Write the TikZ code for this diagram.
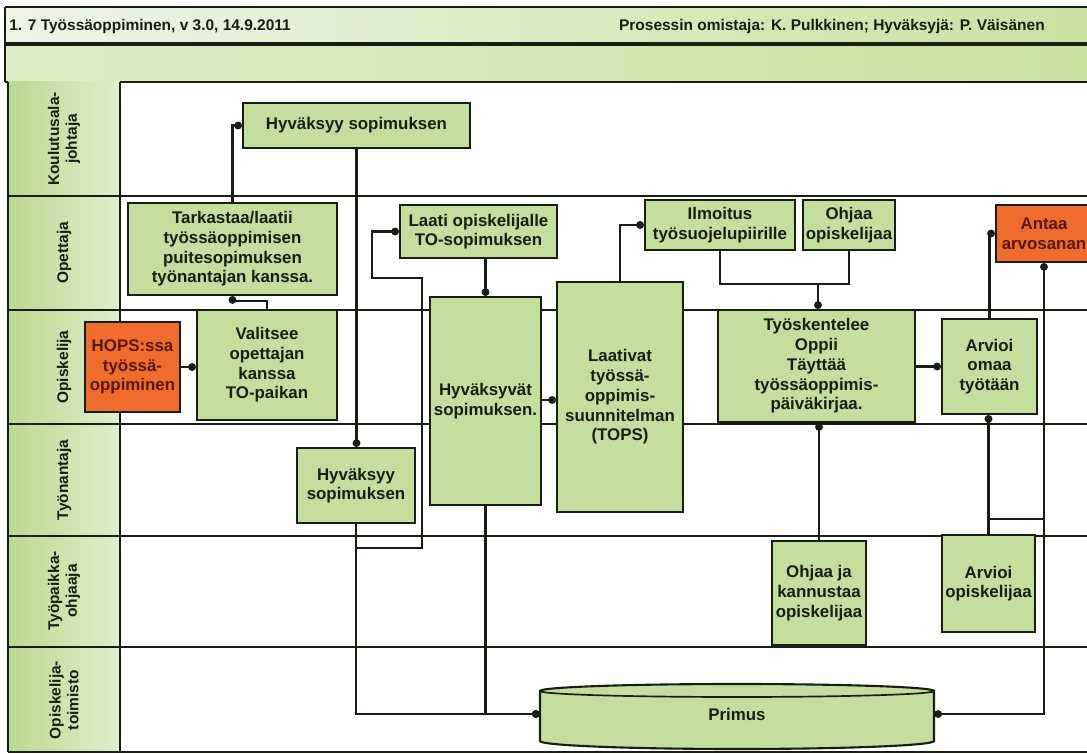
\documentclass[tikz,border=0pt]{standalone}
\usepackage{fontspec}
\setmainfont{Liberation Sans}
\usetikzlibrary{arrows.meta}
\definecolor{boxgreen}{RGB}{196,222,158}
\definecolor{boxorange}{RGB}{240,108,45}
\definecolor{otext}{RGB}{85,25,10}
\definecolor{lblgreen}{RGB}{186,216,144}
\definecolor{lblgreenl}{RGB}{224,239,204}
\definecolor{hdrl}{RGB}{238,244,230}
\definecolor{hdrr}{RGB}{200,226,160}
\definecolor{inkc}{RGB}{25,30,20}
\newdimen\pxu \pxu=0.025cm
\newcommand\bxfont{\fontsize{12}{14}\selectfont\bfseries}
\newcommand\lblfont{\fontsize{11}{12.5}\selectfont\bfseries}
\begin{document}
\begin{tikzpicture}[x=0.025cm,y=-0.025cm,
 sz/.style 2 args={minimum width=#1\pxu, minimum height=#2\pxu},
 gbox/.style={draw=inkc, line width=1.5pt, fill=boxgreen, inner sep=0pt, align=center, font=\bxfont, text=inkc},
 obox/.style={gbox, fill=boxorange, text=otext},
 conn/.style={draw=inkc, line width=1.5pt},
 tip/.style={conn, -{Circle[length=5.5pt]}},
 lane/.style={draw=inkc, line width=1.3pt},
 lbl/.style={rotate=90, align=center, font=\lblfont, text=inkc},
 hdr/.style={font=\fontsize{11}{13}\selectfont\bfseries, text=inkc, inner sep=0pt}]

\useasboundingbox (0,0) rectangle (1087,754);
\fill[white] (0,0) rectangle (1087,754);
% header bands
\shade[left color=hdrl, right color=hdrr] (5,7) rectangle (1092,43);
\shade[left color=hdrr!60!white, right color=hdrr] (5,45) rectangle (1092,81);
\draw[lane, line width=1.8pt] (5,7) -- (1092,7);
\draw[lane, line width=2.2pt] (5,44) -- (1092,44);
\draw[lane, line width=2pt] (5,82) -- (1092,82);
\draw[lane] (5,7) -- (5,82);
% label column
\shade[left color=lblgreen, right color=lblgreenl] (8,82) rectangle (120,752);
\foreach \yy in {196,310,424,536,647} { \draw[lane] (8,\yy) -- (1092,\yy); }
\draw[lane, line width=1.8pt] (8,752) -- (1092,752);
\draw[lane] (8,82) -- (8,752);
\draw[lane, line width=1.8pt] (120,82) -- (120,752);

% header texts
\node[hdr, anchor=west] (t1) at (9,27) {1. 7 Työssäoppiminen, v 3.0, 14.9.2011};
\node[hdr, anchor=east] (t2) at (1045,27) {Prosessin omistaja: K. Pulkkinen; Hyväksyjä: P. Väisänen};

% lane labels
\node[lbl] (l1) at (64,139) {Koulutusala-\\johtaja};
\node[lbl] (l2) at (64,253) {Opettaja};
\node[lbl] (l3) at (64,367) {Opiskelija};
\node[lbl] (l4) at (64,480) {Työnantaja};
\node[lbl] (l5) at (64,591) {Työpaikka-\\ohjaaja};
\node[lbl] (l6) at (64,700) {Opiskelija-\\toimisto};

% Primus disk
\filldraw[fill=boxgreen, draw=inkc, line width=1.5pt] (540,691) -- (540,741)
  arc[start angle=180,end angle=360,x radius=197\pxu,y radius=8\pxu] -- (934,691)
  arc[start angle=0,end angle=180,x radius=197\pxu,y radius=7\pxu] -- cycle;
\draw[inkc, line width=1.2pt] (540,691) arc[start angle=180,end angle=360,x radius=197\pxu,y radius=6\pxu];
\node[inner sep=0pt, font=\bxfont, text=inkc, sz={394}{58}] (P) at (737,714) {Primus};

% boxes
\node[gbox, sz={227}{45}] (A) at (356.5,125.5) {Hyväksyy sopimuksen};
\node[gbox, sz={209}{92}] (B) at (232.5,249) {Tarkastaa/laatii\\työssäoppimisen\\puitesopimuksen\\työnantajan kanssa.};
\node[gbox, sz={157}{53}] (C) at (478.5,231.5) {Laati opiskelijalle\\TO-sopimuksen};
\node[gbox, sz={150}{50}] (D) at (720,225) {Ilmoitus\\työsuojelupiirille};
\node[gbox, sz={92}{50}] (E) at (849,225) {Ohjaa\\opiskelijaa};
\node[obox, sz={96}{57}] (F) at (1044,233.5) {Antaa\\arvosanan};
\node[obox, sz={95}{90}] (G) at (132.5,367) {HOPS:ssa\\työssä-\\oppiminen};
\node[gbox, sz={140}{110}] (H) at (267,365) {Valitsee\\opettajan\\kanssa\\TO-paikan};
\node[gbox, sz={111}{208}] (I) at (485.5,401) {Hyväksyvät\\sopimuksen.};
\node[gbox, sz={126}{230}] (J) at (620,397) {Laativat\\työssä-\\oppimis-\\suunnitelman\\(TOPS)};
\node[gbox, sz={197}{112}] (K) at (816.5,366) {Työskentelee\\Oppii\\Täyttää\\työssäoppimis-\\päiväkirjaa.};
\node[gbox, sz={95}{95}] (L) at (989.5,366.5) {Arvioi\\omaa\\työtään};
\node[gbox, sz={118}{75}] (M) at (356,485.5) {Hyväksyy\\sopimuksen};
\node[gbox, sz={94}{104}] (N) at (819,593) {Ohjaa ja\\kannustaa\\opiskelijaa};
\node[gbox, sz={93}{97}] (O) at (988.5,583.5) {Arvioi\\opiskelijaa};

% connectors
\coordinate (h1) at (267,301);
\coordinate (m1) at (356,548);
\coordinate (m2) at (422,548);
\coordinate (m3) at (422,278);
\coordinate (m4) at (372,278);
\coordinate (ij) at (541,400);
\coordinate (de) at (818,284);
\coordinate (j1) at (1044,519);

\draw[tip] (B.north) |- (A.west);
\draw[tip] (A.south) -- (A.south |- M.north);
\draw[tip] (H.north) -- (h1) -| (B.south);
\draw[tip] (G.east) -- (G.east -| H.west);
\draw[tip] (M.south) -- (m1) -- (m2) -- (m3) -- (m4) |- (C.west);
\draw[tip] (M.south) |- (P.west);
\draw[tip] (I.south) |- (P.west);
\draw[tip] (I.north |- C.south) -- (I.north);
\draw[tip] (ij) -- (ij -| J.west);
\draw[tip] (J.north) |- (D.west);
\draw[conn] (D.south) |- (de) -| (E.south);
\draw[tip] (de) -- (de |- K.north);
\draw[tip] (K.east |- L.west) -- (L.west);
\draw[tip] (N.north) -- (N.north |- K.south);
\draw[tip] (O.north) -- (O.north |- L.south);
\draw[tip] (L.north) |- (F.west);
\draw[tip] (O.north |- j1) -- (j1) -- (F.south);
\draw[tip] (j1) |- (P.east);
\end{tikzpicture}
\end{document}
